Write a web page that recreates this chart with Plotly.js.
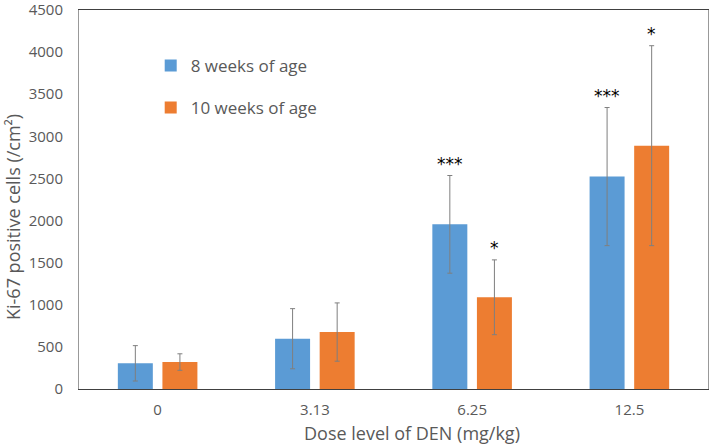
<!DOCTYPE html>
<html><head><meta charset="utf-8">
<script src="https://cdn.plot.ly/plotly-3.0.1.min.js"></script>
<style>html,body{margin:0;padding:0;background:#fff}#chart{width:711px;height:446px}</style>
</head><body><div id="chart"></div>
<script>
const categories = ["0", "3.13", "6.25", "12.5"];
const seriesNames = ["8 weeks of age", "10 weeks of age"];
const weeks8 = [305, 597, 1955, 2522];
const weeks8Err = [210, 357, 580, 820];
const weeks10 = [320, 676, 1089, 2889];
const weeks10Err = [98, 346, 444, 1187];
const stars8 = ["", "", "***", "***"];
const stars10 = ["", "", "*", "*"];
const yTicks = [0, 500, 1000, 1500, 2000, 2500, 3000, 3500, 4000, 4500];
const xTitle = "Dose level of DEN (mg/kg)";
const yTitle = "Ki-67 positive cells (/cm²)";

const colors = ["#5B9BD5", "#ED7D31"];
const gray = "#595959";

function barTrace(name, y, err, color, grp) {
  return {
    type: "bar", name: name, x: categories, y: y, legendgroup: grp,
    marker: {color: color, line: {width: 0}},
    error_y: {type: "data", array: err, visible: true, color: "#7f7f7f", thickness: 1, width: 2.5}
  };
}

const data = [
  barTrace(seriesNames[0], weeks8, weeks8Err, colors[0], "a"),
  barTrace(seriesNames[1], weeks10, weeks10Err, colors[1], "b")
];

const annotations = [];
categories.forEach((c, i) => {
  if (stars8[i]) annotations.push({x: i, y: weeks8[i] + weeks8Err[i], xref: "x", yref: "y", text: stars8[i], showarrow: false, xshift: -22.3, yanchor: "bottom", yshift: 0, font: {family: "DejaVu Sans", size: 17, color: "#000"}});
  if (stars10[i]) annotations.push({x: i, y: weeks10[i] + weeks10Err[i], xref: "x", yref: "y", text: stars10[i], showarrow: false, xshift: 22.3, yanchor: "bottom", yshift: 0, font: {family: "DejaVu Sans", size: 17, color: "#000"}});
});
annotations.push({xref: "paper", yref: "paper", x: (412 - 79) / 629, y: (389 - 433) / 379, xanchor: "center", yanchor: "middle",
  text: xTitle, showarrow: false, font: {size: 18, color: gray}});
annotations.push({xref: "paper", yref: "paper", x: (13 - 79) / 629, y: (389 - 217) / 379, xanchor: "center", yanchor: "middle",
  text: yTitle, textangle: -90, showarrow: false, font: {size: 18, color: gray}});

const layout = {
  width: 711, height: 446,
  margin: {l: 79, r: 3, t: 10, b: 57},
  paper_bgcolor: "#fff", plot_bgcolor: "#fff",
  barmode: "group", bargap: 0.433, bargroupgap: 0.215,
  font: {family: "Open Sans", color: gray},
  showlegend: true,
  legend: {x: 0.114, y: 0.9, xanchor: "left", yanchor: "top", bgcolor: "rgba(0,0,0,0)",
           font: {size: 17, color: gray}, traceorder: "grouped", tracegroupgap: 17, itemwidth: 30},
  xaxis: {type: "category", range: [-0.5, 3.5], autorange: false, showline: true, linecolor: "#404040", linewidth: 1.2, mirror: true,
          ticks: "", showgrid: false, tickfont: {size: 15, color: gray}, ticklabelstandoff: 7},
  yaxis: {range: [0, 4500], autorange: false, tickmode: "array", tickvals: yTicks, ticktext: yTicks.map(String),
          ticklabeloverflow: "allow",
          showline: true, linecolor: "#999", linewidth: 1, mirror: true,
          ticks: "", showgrid: false, zeroline: false, tickfont: {size: 15, color: gray}, ticklabelstandoff: 12},
  annotations: annotations
};

Plotly.newPlot("chart", data, layout, {displayModeBar: false, staticPlot: true});
</script></body></html>
